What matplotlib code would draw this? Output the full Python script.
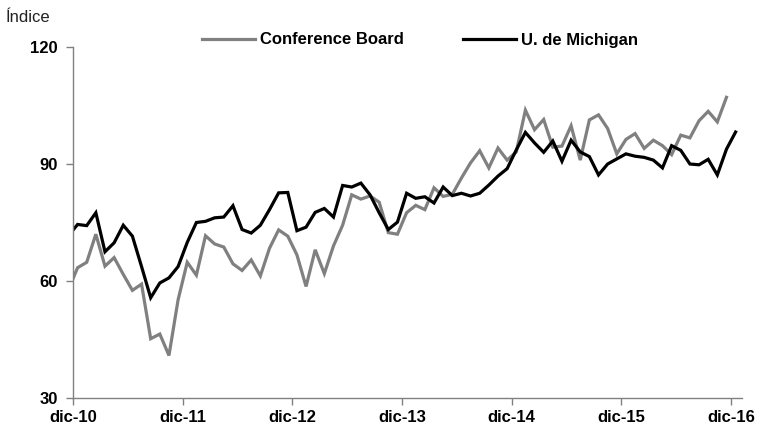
import matplotlib
matplotlib.use("Agg")
import matplotlib.pyplot as plt
from matplotlib import font_manager as fm
import numpy as np

# Monthly data, Nov-2010 .. Dec-2016
conference_board = [
    57.8,                                                                    # nov-10
    63.4,                                                                    # dic-10
    64.8, 72.0, 63.8, 66.0, 61.7, 57.6, 59.2, 45.2, 46.4, 40.9, 55.2, 64.8,  # 2011
    61.5, 71.6, 69.5, 68.7, 64.4, 62.7, 65.4, 61.3, 68.4, 73.1, 71.5, 66.7,  # 2012
    58.6, 68.0, 61.9, 69.0, 74.3, 82.1, 81.0, 81.8, 80.2, 72.4, 72.0, 77.5,  # 2013
    79.4, 78.3, 83.9, 81.7, 82.2, 86.4, 90.3, 93.4, 89.0, 94.1, 91.0, 93.1,  # 2014
    103.8, 98.8, 101.4, 94.3, 94.6, 99.8, 91.0, 101.3, 102.6, 99.1, 92.6, 96.3,  # 2015
    97.8, 94.0, 96.1, 94.7, 92.4, 97.4, 96.7, 101.1, 103.5, 100.8, 107.1,    # 2016 (to nov)
]
michigan = [
    71.6,                                                                    # nov-10
    74.5,                                                                    # dic-10
    74.2, 77.5, 67.5, 69.8, 74.3, 71.5, 63.7, 55.7, 59.5, 60.8, 63.7, 69.9,  # 2011
    75.0, 75.3, 76.2, 76.4, 79.3, 73.2, 72.3, 74.3, 78.3, 82.6, 82.7, 72.9,  # 2012
    73.8, 77.6, 78.6, 76.4, 84.5, 84.1, 85.1, 82.1, 77.5, 73.2, 75.1, 82.5,  # 2013
    81.2, 81.6, 80.0, 84.1, 81.9, 82.5, 81.8, 82.5, 84.6, 86.9, 88.8, 93.6,  # 2014
    98.1, 95.4, 93.0, 95.9, 90.7, 96.1, 93.1, 91.9, 87.2, 90.0, 91.3, 92.6,  # 2015
    92.0, 91.7, 91.0, 89.0, 94.7, 93.5, 90.0, 89.8, 91.2, 87.2, 93.8, 98.2,  # 2016
]
tick_labels = ["dic-10", "dic-11", "dic-12", "dic-13", "dic-14", "dic-15", "dic-16"]
y_ticks = [30, 60, 90, 120]
series_names = ["Conference Board", "U. de Michigan"]

names = {f.name for f in fm.fontManager.ttflist}
fam = "Liberation Sans Narrow" if "Liberation Sans Narrow" in names else "Liberation Sans"
plt.rcParams["font.family"] = [fam, "DejaVu Sans"]

fig = plt.figure(figsize=(7.64, 4.34), dpi=100)
ax = fig.add_axes([73 / 764, 1 - 398 / 434, (742 - 73) / 764, (398 - 47) / 434])

# month centres: nov-10 at -0.5, dic-10 at 0.5, ...
x_cb = np.arange(len(conference_board)) - 0.5
x_mi = np.arange(len(michigan)) - 0.5

gray = "#808080"
ax.plot(x_cb, conference_board, color=gray, lw=2.3, label=series_names[0],
        solid_joinstyle="miter")
ax.plot(x_mi, michigan, color="black", lw=2.3, label=series_names[1],
        solid_joinstyle="miter")

ax.set_xlim(0, 73.2)
ax.set_ylim(30, 120)
ax.set_yticks(y_ticks)
ax.set_xticks(np.arange(len(tick_labels)) * 12)
ax.set_xticklabels(tick_labels, fontsize=12, fontweight="bold")
ax.set_yticklabels([str(v) for v in y_ticks], fontsize=12, fontweight="bold")

for s in ["top", "right"]:
    ax.spines[s].set_visible(False)
for s in ["left", "bottom"]:
    ax.spines[s].set_color(gray)
    ax.spines[s].set_linewidth(1.0)
ax.tick_params(axis="both", direction="out", length=5, width=1, color=gray,
               labelcolor="black")
ax.tick_params(axis="x", pad=4)
ax.tick_params(axis="y", pad=6)

leg = ax.legend(loc="center", bbox_to_anchor=(420 / 764, 1 - 40 / 434),
                bbox_transform=fig.transFigure, ncol=2, frameon=False,
                handlelength=3.2, handletextpad=0.3, columnspacing=3.5,
                prop={"weight": "bold", "size": 12})

fig.text(6 / 764, 1 - 17 / 434, "Índice", fontsize=12, ha="left", va="center",
         color="#222222")

fig.savefig("out.png", dpi=100)
